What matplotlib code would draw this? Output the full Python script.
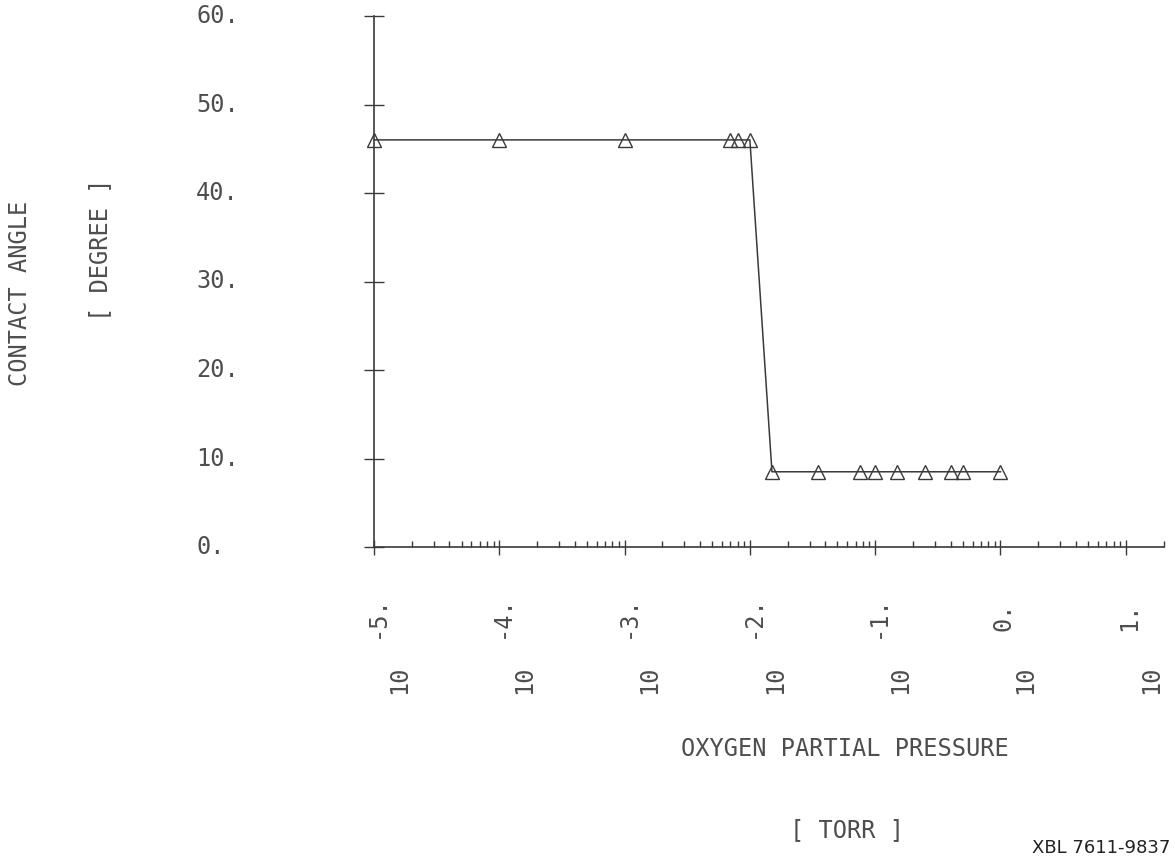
import matplotlib
matplotlib.use('Agg')
import matplotlib.pyplot as plt
import matplotlib.transforms as mtransforms
from matplotlib.ticker import LogLocator, NullFormatter

# datos
pressure = [1e-5, 1e-4, 1e-3, 7e-3, 8e-3, 1e-2,
            1.5e-2, 3.5e-2, 7.5e-2, 0.1, 0.15, 0.25, 0.4, 0.5, 1.0]
angle = [46, 46, 46, 46, 46, 46,
         8.5, 8.5, 8.5, 8.5, 8.5, 8.5, 8.5, 8.5, 8.5]

y_ticks = [0, 10, 20, 30, 40, 50, 60]
y_labels = ['0.', '10.', '20.', '30.', '40.', '50.', '60.']
x_exps = [-5, -4, -3, -2, -1, 0, 1]
x_exp_labels = ['-5.', '-4.', '-3.', '-2.', '-1.', '0.', '1.']

ink = '#3a3a3a'
txt = '#4e4e4e'
plt.rcParams['font.family'] = ['DejaVu Sans Mono', 'DejaVu Sans']

W, H = 1175, 861
fig = plt.figure(figsize=(W / 100, H / 100), dpi=100)
ax = fig.add_axes([374 / W, 1 - 547 / H, (1163.5 - 374) / W, (547 - 16) / H])

ax.plot(pressure, angle, color=ink, lw=1.1, marker='^', ms=10,
        mfc='none', mec=ink, mew=1.0, clip_on=False)

ax.set_xscale('log')
ax.set_xlim(1e-5, 2e1)
ax.set_ylim(0, 60)

for s in ['top', 'right']:
    ax.spines[s].set_visible(False)
for s in ['left', 'bottom']:
    ax.spines[s].set_color(ink)
    ax.spines[s].set_linewidth(1.2)

# ticks tipo plotter
ax.set_yticks(y_ticks)
ax.set_xticks([10.0 ** e for e in x_exps])
ax.xaxis.set_minor_locator(LogLocator(base=10, subs=[2, 3, 4, 5, 6, 7, 8, 9], numticks=20))
ax.xaxis.set_minor_formatter(NullFormatter())
ax.tick_params(axis='y', which='major', direction='inout', length=14.4, width=1.0,
               color=ink, labelleft=False)
ax.tick_params(axis='x', which='major', direction='inout', length=10.8, width=1.0,
               color=ink, labelbottom=False)
ax.tick_params(axis='x', which='minor', direction='in', length=4.3, width=1.0, color=ink)

# etiquetas del eje Y
trans_y = mtransforms.blended_transform_factory(fig.transFigure, ax.transData)
for v, lab in zip(y_ticks, y_labels):
    ax.text(196 / W, v, lab, transform=trans_y, ha='left', va='center',
            fontsize=17, color=txt)

# etiquetas del eje X (10 con exponente, giradas)
trans_x = mtransforms.blended_transform_factory(ax.transData, fig.transFigure)
for e, lab in zip(x_exps, x_exp_labels):
    t_exp = mtransforms.offset_copy(trans_x, fig=fig, x=3, y=0, units='dots')
    t_base = mtransforms.offset_copy(trans_x, fig=fig, x=25, y=0, units='dots')
    ax.text(10.0 ** e, 1 - 617 / H, lab, transform=t_exp, rotation=90,
            ha='center', va='center', fontsize=17, color=txt, clip_on=False)
    ax.text(10.0 ** e, 1 - 680 / H, '10', transform=t_base, rotation=90,
            ha='center', va='center', fontsize=17, color=txt, clip_on=False)

# titulos de ejes
fig.text(20 / W, 1 - 293 / H, 'CONTACT ANGLE', rotation=90, ha='center', va='center',
         fontsize=17, color=txt)
fig.text(100 / W, 1 - 250 / H, '[ DEGREE ]', rotation=90, ha='center', va='center',
         fontsize=17, color=txt)
fig.text(845 / W, 1 - 749 / H, 'OXYGEN PARTIAL PRESSURE', ha='center', va='center',
         fontsize=17, color=txt)
fig.text(847 / W, 1 - 830 / H, '[ TORR ]', ha='center', va='center',
         fontsize=17, color=txt)
fig.text(1170 / W, 1 - 848 / H, 'XBL 7611-9837', ha='right', va='center',
         fontsize=13, color='#222222', family='DejaVu Sans')

fig.savefig('out.png', dpi=100)
